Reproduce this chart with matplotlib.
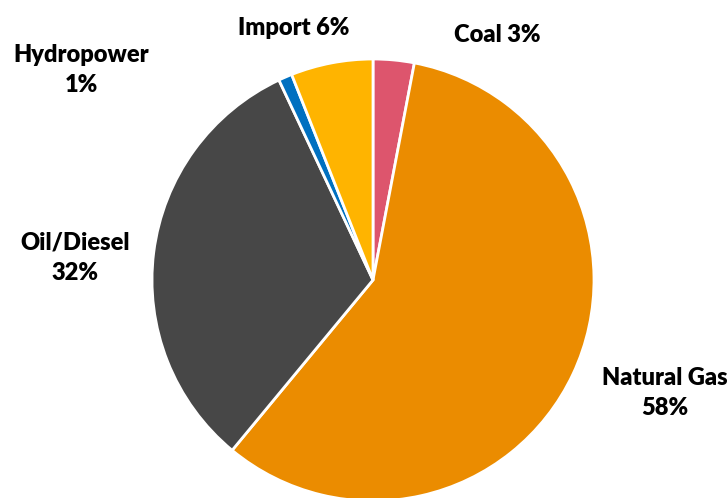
import matplotlib
matplotlib.use('Agg')
import matplotlib.pyplot as plt

labels = ['Coal', 'Natural Gas', 'Oil/Diesel', 'Hydropower', 'Import']
shares = [3, 58, 32, 1, 6]
colors = ['#DD556D', '#EB8C00', '#474747', '#0070C0', '#FFB400']

plt.rcParams['font.family'] = ['Lato', 'DejaVu Sans']

fig = plt.figure(figsize=(7.28, 4.98), dpi=100)
ax = fig.add_axes([0, 0, 1, 1])

ax.pie(shares, colors=colors, startangle=90, counterclock=False,
       radius=1.0, center=(0, 0),
       wedgeprops=dict(edgecolor='white', linewidth=2))

# label text and where it sits (pie radius = 1)
label_text = ['Coal 3%', 'Natural Gas\n58%', 'Oil/Diesel\n32%', 'Hydropower\n1%', 'Import 6%']
label_pos = [(0.56, 1.11), (1.32, -0.51), (-1.35, 0.10), (-1.32, 0.95), (-0.36, 1.14)]
for txt, (x, y) in zip(label_text, label_pos):
    ax.text(x, y, txt, ha='center', va='center', fontsize=17,
            fontweight='heavy', color='black', linespacing=1.45)

ax.set_xlim(-373 / 221, (728 - 373) / 221)
ax.set_ylim(-(498 - 280) / 221, 280 / 221)
ax.set_aspect('equal')
ax.axis('off')

fig.savefig('out.png', dpi=100)
